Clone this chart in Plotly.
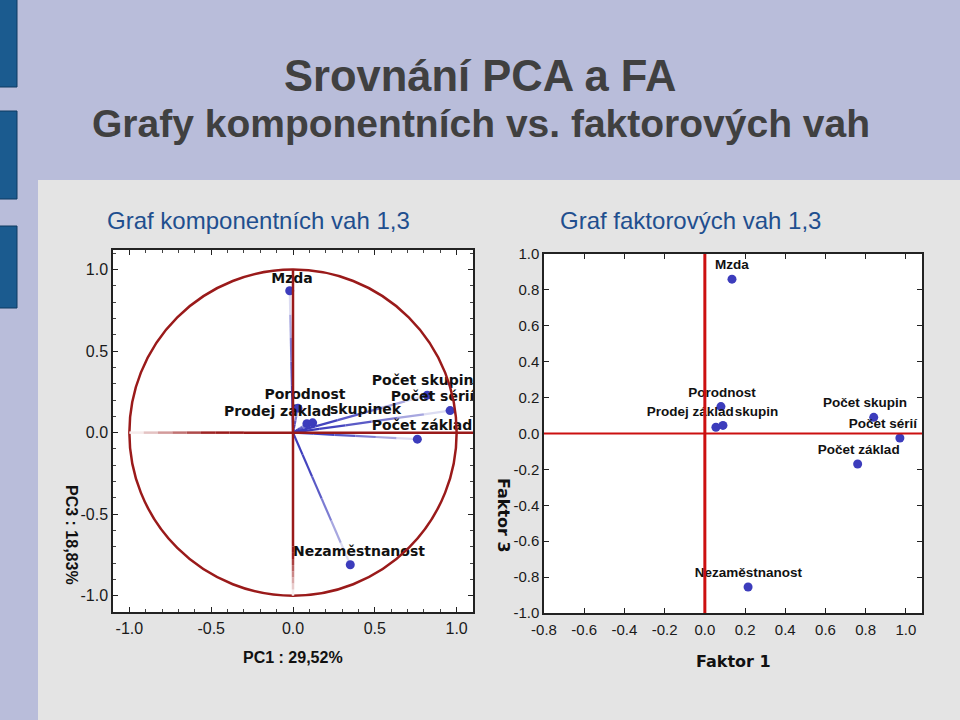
import numpy as np
import plotly.graph_objects as go

# ---------------- data ----------------
var_names = ["Mzda", "Porodnost", "Prodej základ", "skupinek",
             "Počet skupin", "Počet sérií", "Počet základ", "Nezaměstnanost"]
pc1 = [-0.02, 0.03, 0.085, 0.12, 0.82, 0.96, 0.76, 0.35]
pc3 = [0.87, 0.15, 0.055, 0.06, 0.23, 0.135, -0.04, -0.81]

fa_names = ["Mzda", "Porodnost", "Prodej základ", "skupin",
            "Počet skupin", "Počet sérií", "Počet základ", "Nezaměstnanost"]
f1 = [0.135, 0.08, 0.055, 0.09, 0.84, 0.97, 0.76, 0.215]
f3 = [0.86, 0.15, 0.035, 0.045, 0.09, -0.025, -0.17, -0.855]

left_ticks = [-1.0, -0.5, 0.0, 0.5, 1.0]
left_ticktext = ["-1.0", "-0.5", "0.0", "0.5", "1.0"]
right_xticks = [-0.8, -0.6, -0.4, -0.2, 0.0, 0.2, 0.4, 0.6, 0.8, 1.0]
right_xticktext = ["-0.8", "-0.6", "-0.4", "-0.2", "0.0", "0.2", "0.4", "0.6", "0.8", "1.0"]
right_yticks = [-1.0, -0.8, -0.6, -0.4, -0.2, 0.0, 0.2, 0.4, 0.6, 0.8, 1.0]
right_yticktext = ["-1.0", "-0.8", "-0.6", "-0.4", "-0.2", "0.0", "0.2", "0.4", "0.6", "0.8", "1.0"]

# ---------------- style ----------------
W, H = 960, 720
LAV = "#b9bdda"
PANEL = "#e4e4e4"
DARKRED = "#9a1a1a"
BRIGHTRED = "#cc1010"
BLUE = "#3c3cbc"

# label offsets (data units) and text anchor per label
left_lbl = {
    "Mzda": (0.014, 0.072, "middle center"),
    "Porodnost": (0.043, 0.076, "middle center"),
    "Prodej základ": (-0.506, 0.067, "middle right"),
    "skupinek": (0.106, 0.075, "middle right"),
    "Počet skupin": (-0.338, 0.082, "middle right"),
    "Počet sérií": (-0.362, 0.079, "middle right"),
    "Počet základ": (-0.278, 0.077, "middle right"),
    "Nezaměstnanost": (-0.35, 0.076, "middle right"),
}
right_lbl = {
    "Mzda": (-0.001, 0.073, "middle center"),
    "Porodnost": (0.005, 0.07, "middle center"),
    "Prodej základ": (-0.344, 0.079, "middle right"),
    "skupin": (0.059, 0.069, "middle right"),
    "Počet skupin": (-0.253, 0.074, "middle right"),
    "Počet sérií": (-0.254, 0.072, "middle right"),
    "Počet základ": (-0.198, 0.073, "middle right"),
    "Nezaměstnanost": (-0.265, 0.072, "middle right"),
}


def px(x):
    return x / W


def py(y):
    return 1 - y / H


def mix(c1, c2, t):
    a = [int(c1[i:i + 2], 16) for i in (1, 3, 5)]
    b = [int(c2[i:i + 2], 16) for i in (1, 3, 5)]
    return "rgb(%d,%d,%d)" % tuple(round(a[k] + (b[k] - a[k]) * t) for k in range(3))


fig = go.Figure()
shapes = []

# lavender slide background (outside the grey panel) + side bars
shapes.append(dict(type="rect", xref="paper", yref="paper", x0=0, x1=1.0,
                   y0=py(180), y1=1.0, fillcolor=LAV, line=dict(width=0), layer="below"))
shapes.append(dict(type="rect", xref="paper", yref="paper", x0=0, x1=px(38),
                   y0=0, y1=1.0, fillcolor=LAV, line=dict(width=0), layer="below"))
for (a, b) in [(-5, 87), (111, 199), (226, 308)]:
    shapes.append(dict(type="rect", xref="paper", yref="paper", x0=-0.01, x1=px(17),
                       y0=py(b), y1=py(a), fillcolor="#1b5b8f",
                       line=dict(color="#0e3a60", width=1), layer="below"))

# ---------- left chart (PCA) ----------
shapes.append(dict(type="circle", xref="x", yref="y", x0=-1, y0=-1, x1=1, y1=1,
                   line=dict(color=DARKRED, width=2.5), layer="above"))
nseg = 8
for i in range(nseg):
    t0, t1 = i / nseg, (i + 1) / nseg
    col = mix("#ffffff", DARKRED, min(1.0, (i + 0.5) / nseg * 1.4))
    shapes.append(dict(type="line", xref="x", yref="y",
                       x0=-1 + 0.7 * t0, x1=-1 + 0.7 * t1, y0=0, y1=0,
                       line=dict(color=col, width=2.5), layer="above"))
    col2 = mix("#ffffff", DARKRED, min(1.0, (i + 0.5) / nseg * 1.2))
    shapes.append(dict(type="line", xref="x", yref="y",
                       x0=0, x1=0, y0=-1 + 0.3 * t0, y1=-1 + 0.3 * t1,
                       line=dict(color=col2, width=2.5), layer="above"))
shapes.append(dict(type="line", xref="x", yref="y", x0=-0.3, x1=1.1, y0=0, y1=0,
                   line=dict(color=DARKRED, width=2.5), layer="above"))
shapes.append(dict(type="line", xref="x", yref="y", x0=0, x1=0, y0=-0.7, y1=1.0,
                   line=dict(color=DARKRED, width=2.5), layer="above"))

for xv, yv in zip(pc1, pc3):
    nv = 6
    for i in range(nv):
        t0, t1 = i / nv, (i + 1) / nv
        col = mix(BLUE, "#dcdcf2", (i / (nv - 1)) ** 1.8)
        fig.add_trace(go.Scatter(x=[xv * t0, xv * t1], y=[yv * t0, yv * t1],
                                 mode="lines", line=dict(color=col, width=2.2),
                                 hoverinfo="skip", showlegend=False,
                                 xaxis="x", yaxis="y"))

fig.add_trace(go.Scatter(x=pc1, y=pc3, mode="markers",
                         marker=dict(color=BLUE, size=9), showlegend=False,
                         xaxis="x", yaxis="y", cliponaxis=True))
fig.add_trace(go.Scatter(
    x=[xv + left_lbl[n][0] for n, xv in zip(var_names, pc1)],
    y=[yv + left_lbl[n][1] for n, yv in zip(var_names, pc3)],
    text=var_names, mode="text",
    textposition=[left_lbl[n][2] for n in var_names],
    textfont=dict(family="DejaVu Sans", size=14, color="#111111", weight="bold"),
    showlegend=False, cliponaxis=True, xaxis="x", yaxis="y"))

# ---------- right chart (FA) ----------
shapes.append(dict(type="line", xref="x2", yref="y2", x0=0, x1=0, y0=-1, y1=1,
                   line=dict(color=BRIGHTRED, width=3), layer="above"))
shapes.append(dict(type="line", xref="x2", yref="y2", x0=-0.8, x1=1.08, y0=0, y1=0,
                   line=dict(color=BRIGHTRED, width=2), layer="above"))

fig.add_trace(go.Scatter(x=f1, y=f3, mode="markers",
                         marker=dict(color=BLUE, size=9), showlegend=False,
                         xaxis="x2", yaxis="y2", cliponaxis=True))
fig.add_trace(go.Scatter(
    x=[xv + right_lbl[n][0] for n, xv in zip(fa_names, f1)],
    y=[yv + right_lbl[n][1] for n, yv in zip(fa_names, f3)],
    text=fa_names, mode="text",
    textposition=[right_lbl[n][2] for n in fa_names],
    textfont=dict(family="Liberation Sans", size=13.5, color="#111111", weight="bold"),
    showlegend=False, cliponaxis=True, xaxis="x2", yaxis="y2"))

tickfont = dict(family="Liberation Sans", size=16, color="#1a1a1a")
tickfont2 = dict(family="Liberation Sans", size=15, color="#1a1a1a")
axis_common = dict(showline=True, linecolor="#222222", linewidth=1.5, mirror="allticks",
                   showgrid=False, zeroline=False, ticks="inside", tickcolor="#222222",
                   fixedrange=True, automargin=False)

fig.update_layout(
    template="none",
    width=W, height=H,
    margin=dict(l=0, r=0, t=0, b=0, pad=0),
    paper_bgcolor=PANEL, plot_bgcolor="white",
    shapes=shapes,
    xaxis=dict(domain=[px(113), px(473)], range=[-1.1, 1.1], anchor="y",
               tickvals=left_ticks, ticktext=left_ticktext, ticklen=5,
               minor=dict(dtick=0.1, tick0=0, ticklen=3, ticks="inside", tickcolor="#444444"),
               tickfont=tickfont, ticklabelstandoff=1, **axis_common),
    yaxis=dict(domain=[py(612), py(250)], range=[-1.1, 1.12], anchor="x",
               tickvals=left_ticks, ticktext=left_ticktext, ticklen=5,
               minor=dict(dtick=0.1, tick0=0, ticklen=3, ticks="inside", tickcolor="#444444"),
               tickfont=tickfont, ticklabelstandoff=0, **axis_common),
    xaxis2=dict(domain=[px(544), px(922)], range=[-0.8, 1.08], anchor="y2",
                tickvals=right_xticks, ticktext=right_xticktext, ticklen=5,
                tickfont=tickfont2, ticklabelstandoff=2, **axis_common),
    yaxis2=dict(domain=[py(613), py(254)], range=[-1.0, 1.0], anchor="x2",
                tickvals=right_yticks, ticktext=right_yticktext, ticklen=5,
                tickfont=tickfont2, ticklabelstandoff=0, **axis_common),
)


def note(text, x, y, size, color, family="Liberation Sans", angle=0):
    return dict(text=text, x=px(x), y=py(y), xref="paper", yref="paper",
                xanchor="center", yanchor="middle", textangle=angle, showarrow=False,
                font=dict(family=family, size=size, color=color))


ann = [
    note("<b>Srovnání PCA a FA</b>", 480, 76, 43.5, "#404040"),
    note("<b>Grafy komponentních vs. faktorových vah</b>", 481, 123, 39, "#404040"),
    note("Graf komponentních vah 1,3", 258, 220, 24, "#1f4f8f"),
    note("Graf faktorových vah 1,3", 690, 220, 24, "#1f4f8f"),
    note("<b>PC1 : 29,52%</b>", 293, 657, 16, "#111111"),
    note("<b>PC3 : 18,83%</b>", 72, 535, 16, "#111111", angle=90),
    note("<b>Faktor 1</b>", 733, 661, 16, "#111111", family="DejaVu Sans"),
    note("<b>Faktor 3</b>", 504, 515, 16, "#111111", family="DejaVu Sans", angle=90),
]
fig.update_layout(annotations=ann)

fig.write_html("out.html", config={"displayModeBar": False},
               post_script="document.body.style.margin='0px';document.body.style.overflow='hidden';")
